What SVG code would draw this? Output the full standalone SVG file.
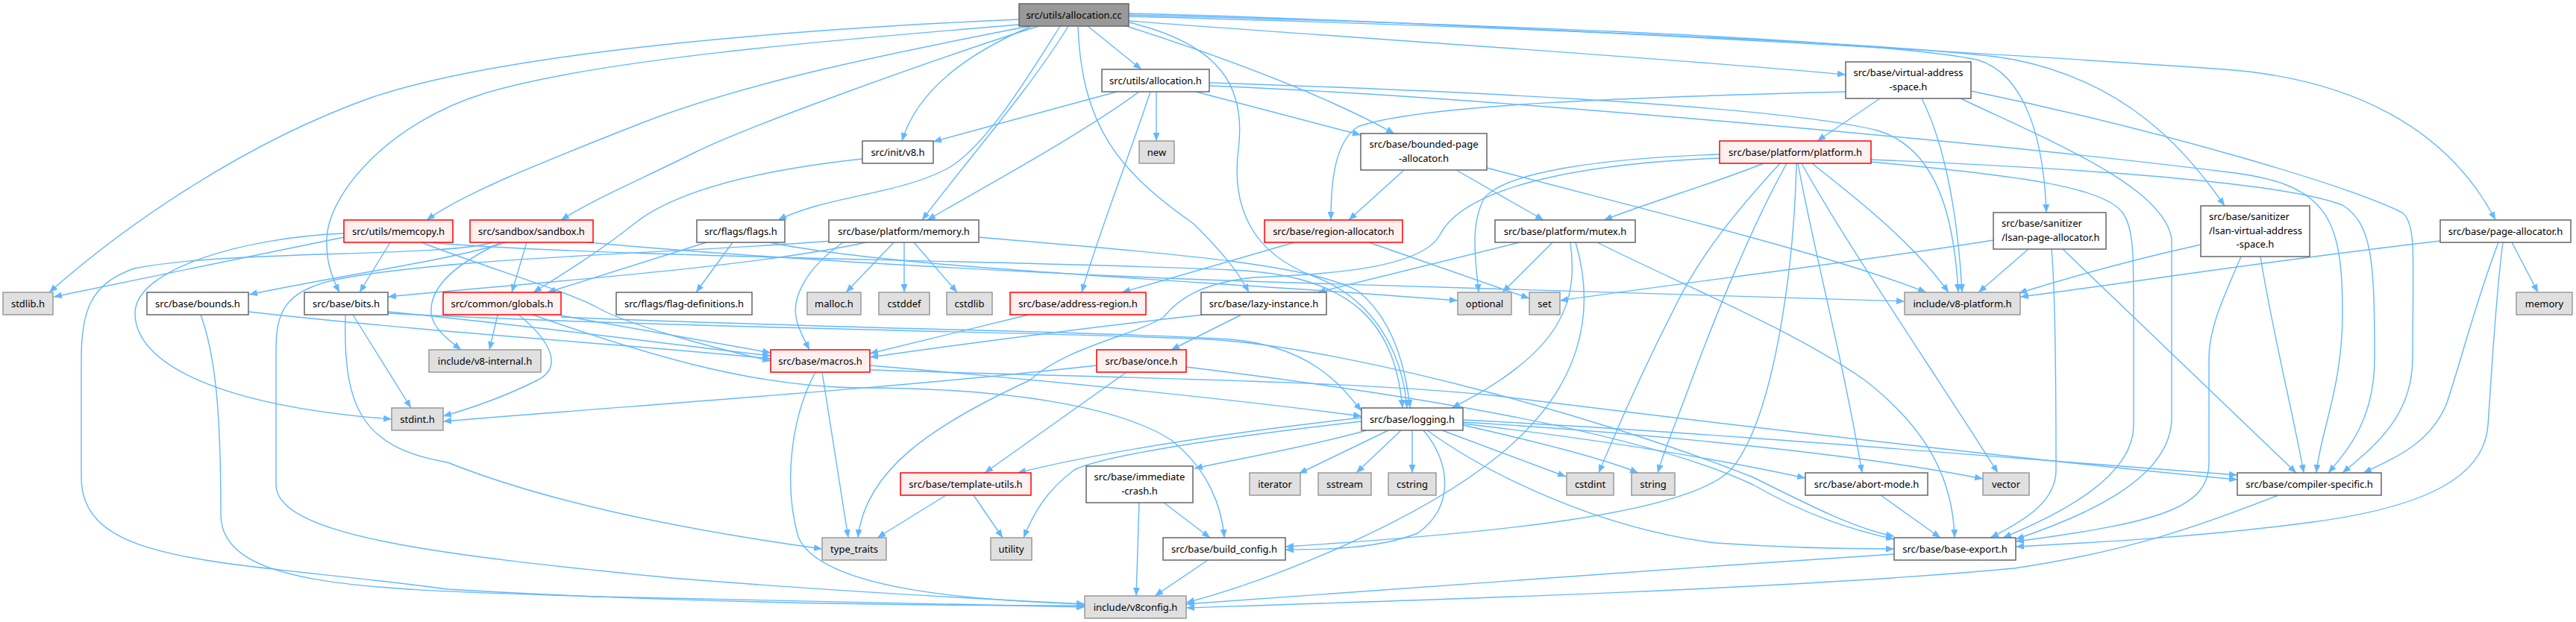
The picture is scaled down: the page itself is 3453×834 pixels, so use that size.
<svg xmlns="http://www.w3.org/2000/svg" width="3453" height="834" viewBox="0 0 3453 834">
<defs>
<marker id="a" viewBox="0 0 11 9" refX="11" refY="4.5" markerWidth="11" markerHeight="9" markerUnits="userSpaceOnUse" orient="auto"><path d="M0,0L11,4.5L0,9z" fill="#63b8ff"/></marker>
<style>
.e{fill:none;stroke:#63b8ff;stroke-width:1.4;marker-end:url(#a)}
.w{fill:#fff;stroke:#666;stroke-width:1.5}
.g{fill:#e0e0e0;stroke:#999;stroke-width:1.5}
.r{fill:#fff0f0;stroke:#f00;stroke-width:1.5}
.root{fill:#999;stroke:#666;stroke-width:1.5}
text{font-family:"Noto Sans","DejaVu Sans",sans-serif;font-size:13px;fill:#000;text-anchor:middle}
text.l{text-anchor:start}
</style>
</defs>
<rect width="3453" height="834" fill="#fff"/>
<g id="edges">
<path class="e" d="M1458,35 L1530,93"/>
<path class="e" d="M1366,26 C1050,40 680,70 500,130 C330,190 170,300 66,392"/>
<path class="e" d="M1366,33 C1100,55 800,80 650,125 C520,165 440,260 438,320 C437,350 444,370 455,392"/>
<path class="e" d="M1380,35 C1200,70 1000,110 860,165 C720,220 620,260 572,295"/>
<path class="e" d="M1392,35 C1250,80 1000,170 930,205 C860,240 800,265 752,295"/>
<path class="e" d="M1421,35 C1380,100 1320,200 1268,227 C1200,262 1110,262 1043,295"/>
<path class="e" d="M1383,35 C1300,70 1230,120 1209,189"/>
<path class="e" d="M1432,35 C1380,120 1300,210 1236,295"/>
<path class="e" d="M1445,35 C1450,170 1500,230 1600,300 C1640,340 1660,365 1674,392"/>
<path class="e" d="M1513,30 C1640,60 1670,120 1660,200 C1650,280 1680,340 1760,370 C1840,400 1880,470 1886,547"/>
<path class="e" d="M1510,35 C1650,80 1780,130 1869,179"/>
<path class="e" d="M1513,28 C1800,50 2200,75 2474,100"/>
<path class="e" d="M1513,20 C1900,30 2500,50 2650,80 C2720,100 2740,200 2743,285"/>
<path class="e" d="M1513,22 C2000,35 2600,60 2700,80 C2850,110 2930,200 2982,276"/>
<path class="e" d="M1513,18 C2000,30 2800,80 2981,93 C3150,105 3280,170 3345,295"/>
<path class="e" d="M1497,123 L1251,190"/>
<path class="e" d="M1527,123 C1450,180 1320,250 1243,295"/>
<path class="e" d="M1542,123 C1510,220 1470,320 1450,392"/>
<path class="e" d="M1550,123 L1550,189"/>
<path class="e" d="M1603,123 L1824,181"/>
<path class="e" d="M1621,111 C1900,120 2380,140 2517,175 C2600,200 2620,300 2625,392"/>
<path class="e" d="M1621,115 C2000,130 2700,195 2980,230 C3120,245 3140,290 3140,420 C3140,520 3110,580 3105,634"/>
<path class="e" d="M2520,132 L2436,189"/>
<path class="e" d="M2576,132 C2610,200 2625,300 2630,392"/>
<path class="e" d="M2474,123 C2200,130 1900,140 1820,170 C1790,190 1784,240 1784,295"/>
<path class="e" d="M2642,122 C2900,175 3150,250 3220,285 C3240,300 3234,350 3234,480 C3234,560 3180,600 3140,634"/>
<path class="e" d="M2628,132 C2750,190 2900,250 2911,320 L2911,560 C2911,640 2800,690 2702,723"/>
<path class="e" d="M2364,219 C2300,245 2220,268 2150,295"/>
<path class="e" d="M2305,207 C2150,212 2020,230 1990,265 C1970,300 1978,350 1982,392"/>
<path class="e" d="M2305,212 C2100,220 1960,255 1930,315 C1905,360 1780,368 1680,372 C1610,380 1580,400 1560,425 C1520,450 1430,465 1380,510 C1250,570 1160,630 1150,721"/>
<path class="e" d="M2386,219 C2330,280 2280,340 2246,410 C2200,500 2170,570 2143,634"/>
<path class="e" d="M2395,219 C2350,300 2300,420 2260,530 C2245,570 2232,600 2222,634"/>
<path class="e" d="M2408,219 C2405,350 2380,560 2320,630 C2260,690 2000,715 1723,733"/>
<path class="e" d="M2410,219 C2430,330 2470,480 2496,634"/>
<path class="e" d="M2415,219 C2470,320 2600,510 2678,634"/>
<path class="e" d="M2429,219 C2480,260 2560,320 2612,392"/>
<path class="e" d="M2508,217 C2700,235 2820,250 2845,285 C2860,305 2860,340 2860,420 L2860,570 C2860,640 2760,690 2685,721"/>
<path class="e" d="M2508,214 C2700,222 3050,240 3140,275 C3180,300 3183,350 3183,480 C3183,560 3150,600 3121,634"/>
<path class="e" d="M2037,325 L1766,392"/>
<path class="e" d="M2081,325 L2014,392"/>
<path class="e" d="M2105,325 C2115,400 2100,470 1946,547"/>
<path class="e" d="M2112,325 C2140,420 2120,520 2010,610 C1900,700 1700,780 1590,808"/>
<path class="e" d="M2141,325 C2250,380 2400,440 2500,510 C2590,580 2618,650 2620,721"/>
<path class="e" d="M1882,228 L1808,295"/>
<path class="e" d="M1952,228 L2069,295"/>
<path class="e" d="M1993,225 C2200,280 2450,340 2582,392"/>
<path class="e" d="M1735,325 L1504,392"/>
<path class="e" d="M1835,325 L2050,400"/>
<path class="e" d="M2672,322 C2500,350 2250,380 2091,403"/>
<path class="e" d="M2719,334 L2652,392"/>
<path class="e" d="M2750,334 C2756,400 2756,550 2756,630 C2756,670 2720,695 2668,721"/>
<path class="e" d="M2765,334 L3078,634"/>
<path class="e" d="M2950,328 C2850,350 2780,370 2706,393"/>
<path class="e" d="M3004,344 C2980,400 2961,440 2961,480 L2961,620 C2961,680 2900,700 2702,726"/>
<path class="e" d="M3030,344 C3045,440 3075,560 3088,634"/>
<path class="e" d="M3367,325 L3402,392"/>
<path class="e" d="M3271,323 C3000,355 2850,380 2708,398"/>
<path class="e" d="M3355,325 C3345,400 3340,500 3335,570 C3330,640 3250,680 3100,700 C2950,720 2800,728 2702,733"/>
<path class="e" d="M3349,325 C3320,400 3300,480 3280,540 C3260,590 3220,610 3168,634"/>
<path class="e" d="M461,318 L72,398"/>
<path class="e" d="M461,313 C330,318 181,360 181,420 C181,490 300,545 525,562"/>
<path class="e" d="M523,325 L482,392"/>
<path class="e" d="M565,325 C640,355 760,390 800,412 C840,435 950,465 1033,484"/>
<path class="e" d="M575,325 C800,345 1400,350 1650,362 C1820,368 1870,440 1880,547"/>
<path class="e" d="M678,325 C600,350 450,370 334,395"/>
<path class="e" d="M706,325 L686,392"/>
<path class="e" d="M671,325 C620,350 575,380 578,420 C580,440 600,455 618,469"/>
<path class="e" d="M660,325 C600,345 300,335 180,360 C120,380 109,420 109,480 L109,640 C109,760 300,750 600,790 C900,808 1200,812 1454,812"/>
<path class="e" d="M789,325 C1000,345 1400,368 1700,378 C2100,392 2400,398 2553,404"/>
<path class="e" d="M947,325 L734,392"/>
<path class="e" d="M982,325 L933,392"/>
<path class="e" d="M1032,325 C1200,360 1600,375 1954,403"/>
<path class="e" d="M1156,213 C1000,230 900,260 850,300 C800,340 750,370 715,392"/>
<path class="e" d="M1198,325 L1134,392"/>
<path class="e" d="M1212,325 L1212,392"/>
<path class="e" d="M1225,325 L1283,392"/>
<path class="e" d="M1161,325 C1000,360 700,380 520,398"/>
<path class="e" d="M1130,325 C1080,360 1060,400 1068,430 C1072,445 1078,455 1085,469"/>
<path class="e" d="M1115,323 C900,340 600,345 450,375 C380,390 370,420 370,470 L370,650 C370,720 600,745 900,775 C1150,795 1350,805 1454,810"/>
<path class="e" d="M1312,318 C1500,335 1750,350 1820,390 C1870,430 1885,500 1890,547"/>
<path class="e" d="M667,422 L656,469"/>
<path class="e" d="M695,422 C730,450 760,490 720,510 C680,530 640,545 594,558"/>
<path class="e" d="M752,423 L1033,473"/>
<path class="e" d="M714,422 C850,470 1000,518 1150,520 C1350,520 1500,545 1570,590 C1620,630 1638,680 1641,721"/>
<path class="e" d="M752,425 C1100,440 1500,445 1650,455 C1760,465 1800,520 1825,551"/>
<path class="e" d="M473,422 L551,547"/>
<path class="e" d="M463,422 C460,540 480,600 600,620 C750,680 950,715 1102,736"/>
<path class="e" d="M520,418 C700,435 900,462 1033,477"/>
<path class="e" d="M520,420 C900,440 1400,445 1620,455 C1800,465 2150,560 2350,640 C2430,680 2490,710 2539,719"/>
<path class="e" d="M333,418 C600,448 850,462 1033,481"/>
<path class="e" d="M269,422 C290,480 296,560 296,690 C296,790 500,790 800,800 C1100,808 1300,812 1454,814"/>
<path class="e" d="M1379,422 L1166,474"/>
<path class="e" d="M1613,422 C1450,440 1300,460 1166,479"/>
<path class="e" d="M1664,422 L1570,469"/>
<path class="e" d="M1470,490 C1200,520 900,540 594,565"/>
<path class="e" d="M1510,499 L1320,634"/>
<path class="e" d="M1590,492 C1900,530 2200,580 2350,650 C2420,690 2480,710 2539,723"/>
<path class="e" d="M1093,499 C1060,560 1050,650 1070,720 C1100,790 1300,805 1454,810"/>
<path class="e" d="M1102,499 L1137,721"/>
<path class="e" d="M1166,490 C1400,510 1650,535 1825,558"/>
<path class="e" d="M1166,496 C1500,507 1800,510 2000,530 C2400,580 2800,625 2999,643"/>
<path class="e" d="M1825,560 C1650,580 1480,605 1364,634"/>
<path class="e" d="M1832,577 C1750,600 1660,615 1601,628"/>
<path class="e" d="M1825,565 C1650,585 1480,610 1440,630 C1400,660 1385,690 1372,721"/>
<path class="e" d="M1861,577 L1741,635"/>
<path class="e" d="M1878,577 L1818,634"/>
<path class="e" d="M1893,577 L1893,634"/>
<path class="e" d="M1908,577 C1945,620 1950,680 1900,715 C1850,735 1780,737 1723,737"/>
<path class="e" d="M1913,577 C2000,640 2150,710 2300,728 C2400,735 2480,736 2539,736"/>
<path class="e" d="M1933,577 L2099,639"/>
<path class="e" d="M1961,570 C2050,590 2150,615 2196,634"/>
<path class="e" d="M1961,568 C2150,590 2300,615 2420,641"/>
<path class="e" d="M1961,566 C2200,580 2500,610 2658,642"/>
<path class="e" d="M1961,563 C2300,580 2700,615 2999,637"/>
<path class="e" d="M1268,664 L1176,721"/>
<path class="e" d="M1305,664 L1344,721"/>
<path class="e" d="M1527,674 L1523,799"/>
<path class="e" d="M1560,674 L1622,721"/>
<path class="e" d="M1619,751 L1548,799"/>
<path class="e" d="M2521,664 L2601,721"/>
<path class="e" d="M2539,743 C2200,765 1800,795 1590,810"/>
<path class="e" d="M3054,664 C2950,705 2850,740 2700,762 C2400,790 1900,805 1590,815"/>
</g>
<g id="n_root"><rect class="root" x="1366" y="5" width="147" height="30"/><text x="1439.5" y="24.5">src/utils/allocation.cc</text></g>
<g id="n_alloch"><rect class="w" x="1477" y="93" width="144" height="30"/><text x="1549" y="112.5">src/utils/allocation.h</text></g>
<g id="n_v8h"><rect class="w" x="1156" y="189" width="95" height="30"/><text x="1203.5" y="208.5">src/init/v8.h</text></g>
<g id="n_new"><rect class="g" x="1527" y="189" width="47" height="30"/><text x="1550.5" y="208.5">new</text></g>
<g id="n_vas"><rect class="w" x="2474" y="83" width="168" height="49"/><text x="2558" y="102">src/base/virtual-address</text><text x="2558" y="120.5">-space.h</text></g>
<g id="n_bpa"><rect class="w" x="1824" y="179" width="169" height="49"/><text x="1908.5" y="198">src/base/bounded-page</text><text x="1908.5" y="216.5">-allocator.h</text></g>
<g id="n_platform"><rect class="r" x="2305" y="189" width="203" height="30"/><text x="2406.5" y="208.5">src/base/platform/platform.h</text></g>
<g id="n_memcopy"><rect class="r" x="461" y="295" width="146" height="30"/><text x="534" y="314.5">src/utils/memcopy.h</text></g>
<g id="n_sandbox"><rect class="r" x="630" y="295" width="165" height="30"/><text x="712.5" y="314.5">src/sandbox/sandbox.h</text></g>
<g id="n_flags"><rect class="w" x="934" y="295" width="118" height="30"/><text x="993" y="314.5">src/flags/flags.h</text></g>
<g id="n_memory"><rect class="w" x="1111" y="295" width="201" height="30"/><text x="1211.5" y="314.5">src/base/platform/memory.h</text></g>
<g id="n_region"><rect class="r" x="1695" y="295" width="185" height="30"/><text x="1787.5" y="314.5">src/base/region-allocator.h</text></g>
<g id="n_mutex"><rect class="w" x="2004" y="295" width="188" height="30"/><text x="2098" y="314.5">src/base/platform/mutex.h</text></g>
<g id="n_lpa"><rect class="w" x="2672" y="285" width="151" height="49"/><text class="l" x="2683" y="304">src/base/sanitizer</text><text class="l" x="2683" y="322.5">/lsan-page-allocator.h</text></g>
<g id="n_lvas"><rect class="w" x="2950" y="276" width="146" height="68"/><text class="l" x="2961" y="295">src/base/sanitizer</text><text class="l" x="2961" y="313.5">/lsan-virtual-address</text><text x="3023" y="332">-space.h</text></g>
<g id="n_pa"><rect class="w" x="3271" y="295" width="175" height="30"/><text x="3358.5" y="314.5">src/base/page-allocator.h</text></g>
<g id="n_stdlib"><rect class="g" x="4" y="392" width="67" height="30"/><text x="37.5" y="411.5">stdlib.h</text></g>
<g id="n_bounds"><rect class="w" x="197" y="392" width="136" height="30"/><text x="265" y="411.5">src/base/bounds.h</text></g>
<g id="n_bits"><rect class="w" x="408" y="392" width="112" height="30"/><text x="464" y="411.5">src/base/bits.h</text></g>
<g id="n_globals"><rect class="r" x="594" y="392" width="158" height="30"/><text x="673" y="411.5">src/common/globals.h</text></g>
<g id="n_flagdefs"><rect class="w" x="826" y="392" width="182" height="30"/><text x="917" y="411.5">src/flags/flag-definitions.h</text></g>
<g id="n_malloc"><rect class="g" x="1082" y="392" width="72" height="30"/><text x="1118" y="411.5">malloc.h</text></g>
<g id="n_cstddef"><rect class="g" x="1178" y="392" width="68" height="30"/><text x="1212" y="411.5">cstddef</text></g>
<g id="n_cstdlib"><rect class="g" x="1269" y="392" width="61" height="30"/><text x="1299.5" y="411.5">cstdlib</text></g>
<g id="n_addr"><rect class="r" x="1354" y="392" width="182" height="30"/><text x="1445" y="411.5">src/base/address-region.h</text></g>
<g id="n_lazy"><rect class="w" x="1610" y="392" width="168" height="30"/><text x="1694" y="411.5">src/base/lazy-instance.h</text></g>
<g id="n_optional"><rect class="g" x="1954" y="392" width="72" height="30"/><text x="1990" y="411.5">optional</text></g>
<g id="n_set"><rect class="g" x="2050" y="392" width="41" height="30"/><text x="2070.5" y="411.5">set</text></g>
<g id="n_v8platform"><rect class="g" x="2553" y="392" width="155" height="30"/><text x="2630.5" y="411.5">include/v8-platform.h</text></g>
<g id="n_memorystd"><rect class="g" x="3373" y="392" width="75" height="30"/><text x="3410.5" y="411.5">memory</text></g>
<g id="n_v8internal"><rect class="g" x="575" y="469" width="150" height="30"/><text x="650" y="488.5">include/v8-internal.h</text></g>
<g id="n_macros"><rect class="r" x="1033" y="469" width="133" height="30"/><text x="1099.5" y="488.5">src/base/macros.h</text></g>
<g id="n_once"><rect class="r" x="1470" y="469" width="120" height="30"/><text x="1530" y="488.5">src/base/once.h</text></g>
<g id="n_stdint"><rect class="g" x="525" y="547" width="69" height="30"/><text x="559.5" y="566.5">stdint.h</text></g>
<g id="n_logging"><rect class="w" x="1825" y="547" width="136" height="30"/><text x="1893" y="566.5">src/base/logging.h</text></g>
<g id="n_tutils"><rect class="r" x="1207" y="634" width="175" height="30"/><text x="1294.5" y="653.5">src/base/template-utils.h</text></g>
<g id="n_icrash"><rect class="w" x="1456" y="625" width="143" height="49"/><text x="1527.5" y="644">src/base/immediate</text><text x="1527.5" y="662.5">-crash.h</text></g>
<g id="n_iterator"><rect class="g" x="1675" y="634" width="68" height="30"/><text x="1709" y="653.5">iterator</text></g>
<g id="n_sstream"><rect class="g" x="1767" y="634" width="71" height="30"/><text x="1802.5" y="653.5">sstream</text></g>
<g id="n_cstring"><rect class="g" x="1861" y="634" width="64" height="30"/><text x="1893" y="653.5">cstring</text></g>
<g id="n_cstdint"><rect class="g" x="2100" y="634" width="63" height="30"/><text x="2131.5" y="653.5">cstdint</text></g>
<g id="n_string"><rect class="g" x="2187" y="634" width="58" height="30"/><text x="2216" y="653.5">string</text></g>
<g id="n_abort"><rect class="w" x="2420" y="634" width="164" height="30"/><text x="2502" y="653.5">src/base/abort-mode.h</text></g>
<g id="n_vector"><rect class="g" x="2658" y="634" width="62" height="30"/><text x="2689" y="653.5">vector</text></g>
<g id="n_cs"><rect class="w" x="2999" y="634" width="193" height="30"/><text x="3095.5" y="653.5">src/base/compiler-specific.h</text></g>
<g id="n_typetraits"><rect class="g" x="1102" y="721" width="86" height="30"/><text x="1145" y="740.5">type_traits</text></g>
<g id="n_utility"><rect class="g" x="1328" y="721" width="55" height="30"/><text x="1355.5" y="740.5">utility</text></g>
<g id="n_buildcfg"><rect class="w" x="1559" y="721" width="164" height="30"/><text x="1641" y="740.5">src/base/build_config.h</text></g>
<g id="n_baseexport"><rect class="w" x="2539" y="721" width="163" height="30"/><text x="2620.5" y="740.5">src/base/base-export.h</text></g>
<g id="n_v8config"><rect class="g" x="1454" y="799" width="136" height="30"/><text x="1522" y="818.5">include/v8config.h</text></g>
</svg>
